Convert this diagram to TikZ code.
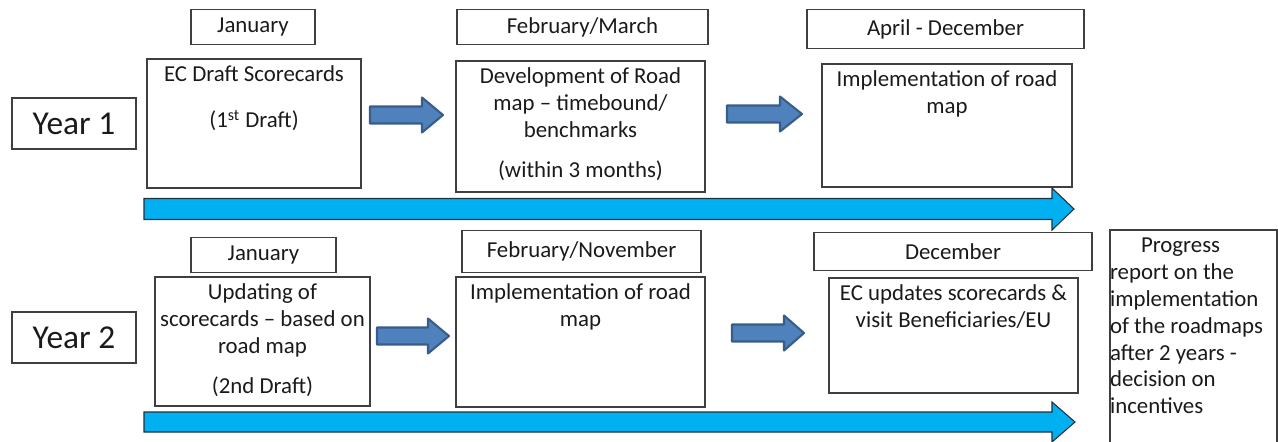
\documentclass[tikz,border=0pt]{standalone}
\usepackage{fontspec}
\setmainfont{Carlito}
\usetikzlibrary{positioning}

\definecolor{boxline}{HTML}{3F3F3F}
\definecolor{inktext}{HTML}{1A1A1A}
\definecolor{stepblue}{HTML}{4F81BD}
\definecolor{stepedge}{HTML}{385D8A}
\definecolor{lanecyan}{HTML}{00B0F0}
\definecolor{laneedge}{HTML}{203040}

\begin{document}
\begin{tikzpicture}[x=0.02cm, y=-0.02cm, text=inktext,
    font={\fontsize{13}{15.5}\selectfont},
    yearbox/.style={draw=boxline, line width=0.8pt, minimum width=2.48cm, minimum height=1.02cm, inner sep=0pt, font={\fontsize{19}{22}\selectfont}},
    monthbox/.style 2 args={draw=boxline, line width=0.8pt, minimum width=#1, minimum height=#2, inner sep=0pt},
    stage/.style 2 args={draw=boxline, line width=0.8pt, inner sep=0pt,
        execute at begin node={\begin{minipage}[c][#2][t]{#1}\centering\rule{0pt}{0.45cm}},
        execute at end node={\end{minipage}}},
    steparrow/.style={draw=stepedge, fill=stepblue, line width=1.2pt, line join=round},
    lanearrow/.style={draw=laneedge, fill=lanecyan, line width=0.6pt},
    pics/blockarrow/.style n args={4}{code={
        \path[pic actions] (0,-#2) -- (#1-#4,-#2) -- (#1-#4,-#3) -- (#1,0) -- (#1-#4,#3) -- (#1-#4,#2) -- (0,#2) -- cycle;
    }}]

    \useasboundingbox (0,0) rectangle (1278,441);

    % Year 1
    \node[yearbox] (year1) at (74,123.5) {Year 1};
    \node[monthbox={2.48cm}{0.70cm}] (jan1) at (253,27) {January};
    \node[monthbox={5.02cm}{0.70cm}] (febmar) at (582.5,27) {February/March};
    \node[monthbox={5.54cm}{0.78cm}] (aprdec) at (945.5,29) {April - December};

    \node[stage={4.28cm}{2.58cm}] (draft1) at (254,123.5) {EC Draft Scorecards\\[0.38cm](1\textsuperscript{st} Draft)};
    \node[stage={4.98cm}{2.62cm}] (develop) at (580.5,126.5) {Development of Road\\map -- timebound/\\benchmarks\\[0.24cm](within 3 months)};
    \node[stage={5.00cm}{2.46cm}] (impl1) at (947,125.5) {Implementation of road\\map};

    \pic[steparrow] at (370,115) {blockarrow={73}{8.5}{17.5}{21}};
    \pic[steparrow] at (727,114) {blockarrow={75}{8.5}{17.5}{22}};
    \pic[lanearrow] at (144,209) {blockarrow={930}{10.5}{21}{22}};

    % Year 2
    \node[yearbox] (year2) at (74,337.5) {Year 2};
    \node[monthbox={2.90cm}{0.70cm}] (jan2) at (263.5,255) {January};
    \node[monthbox={4.78cm}{0.84cm}] (febnov) at (581.5,251.5) {February/November};
    \node[monthbox={5.56cm}{0.76cm}] (dec) at (953,251.5) {December};

    \node[stage={4.30cm}{2.58cm}] (update) at (262.5,341.5) {Updating of\\scorecards -- based on\\road map\\[0.24cm](2nd Draft)};
    \node[stage={4.98cm}{2.60cm}] (impl2) at (580.5,342) {Implementation of road\\map};
    \node[stage={4.98cm}{2.30cm}] (ecvisit) at (953.5,335.5) {EC updates scorecards \&\\visit Beneficiaries/EU};

    \pic[steparrow] at (377,336) {blockarrow={72}{8.5}{17.5}{21}};
    \pic[steparrow] at (732,333) {blockarrow={72}{8.5}{17.5}{20}};
    \pic[lanearrow] at (144,422) {blockarrow={931}{10}{20}{23}};

    \node[stage={3.34cm}{4.60cm}, font={\fontsize{13}{15.3}\selectfont}] (progress) at (1193.5,345)
        {\raggedright\hspace*{0.62cm}Progress\\report on the\\implementation\\of the roadmaps\\after 2 years -\\decision on\\incentives\par};

\end{tikzpicture}
\end{document}
